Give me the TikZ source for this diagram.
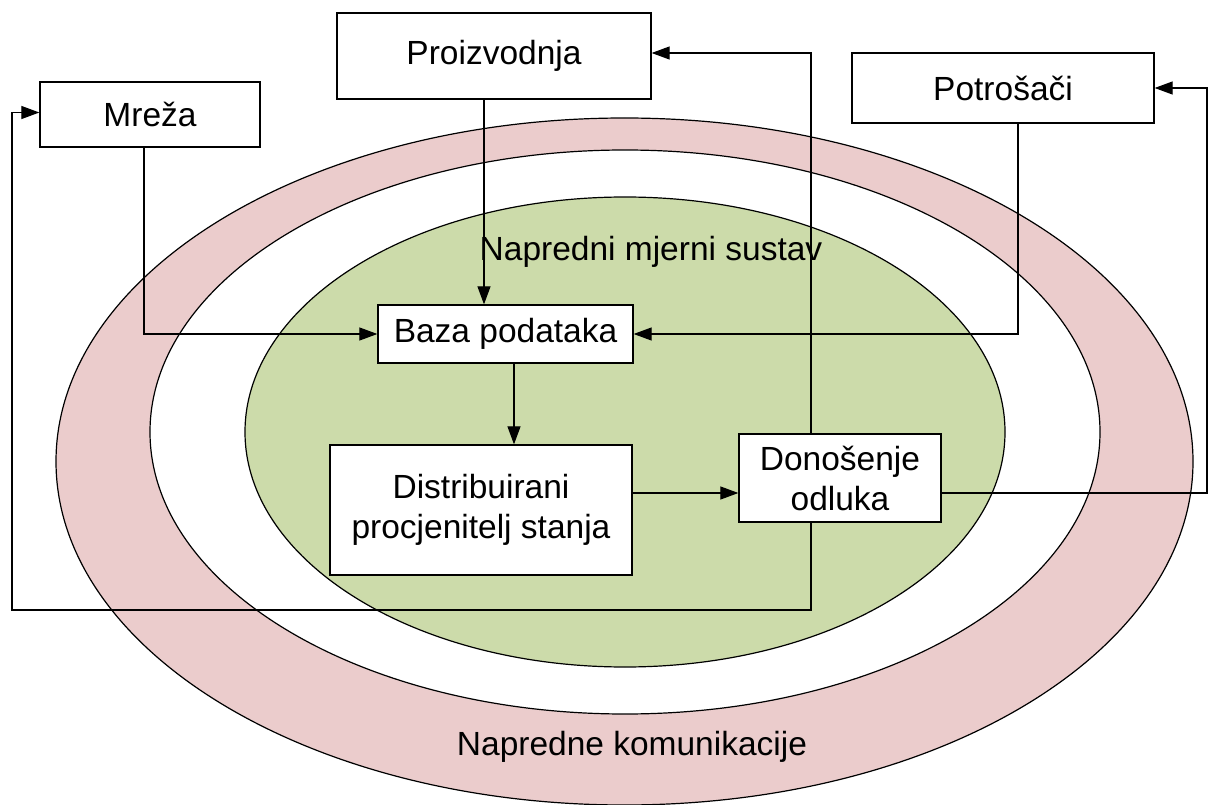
\documentclass[tikz,border=0pt]{standalone}
\usepackage{fontspec}
\setmainfont{Liberation Sans}
\usetikzlibrary{arrows.meta,calc}
\definecolor{pinkc}{HTML}{EBCCCC}
\definecolor{greenc}{HTML}{CCDBAA}
\begin{document}
\begin{tikzpicture}[x=1pt,y=-1pt,
  box/.style={draw=black, line width=1.3pt, fill=white, inner sep=0pt, align=center,
    font=\fontsize{33.5}{40}\selectfont},
  lbl/.style={inner sep=0pt, font=\fontsize{33.5}{40}\selectfont},
  conn/.style={line width=1.2pt, -{Triangle[length=18pt,width=13pt]}},
  ring/.style={draw=black, line width=1.2pt}]
\useasboundingbox[fill=white] (0,0) rectangle (1208,805);
% rings
\draw[ring, fill=pinkc] (624.5,461.5) ellipse [x radius=568.5pt, y radius=343.5pt];
\draw[ring, fill=white] (625,432) ellipse [x radius=475pt, y radius=282pt];
\draw[ring, fill=greenc] (625,432) ellipse [x radius=380pt, y radius=235pt];
\node[lbl] (lblA) at (651,252) {Napredni mjerni sustav};
\node[lbl] (lblB) at (632,747) {Napredne komunikacije};
% boxes
\node[box, minimum width=314pt, minimum height=86pt] (proiz) at (494,56) {Proizvodnja};
\node[box, minimum width=220pt, minimum height=65pt] (mreza) at (150,114.5) {Mreža};
\node[box, minimum width=302pt, minimum height=70pt] (potr) at (1003,88) {Potrošači};
\node[box, minimum width=255pt, minimum height=58pt] (baza) at (505.5,334) {Baza podataka};
\node[box, minimum width=302pt, minimum height=130pt] (dist) at (481,510) {Distribuirani\\procjenitelj stanja};
\node[box, minimum width=202pt, minimum height=88pt] (don) at (840,478) {Donošenje\\odluka};
% connectors
\coordinate (m1) at ($(mreza.south)+(-6,0)$);
\draw[conn] (m1) |- (baza.west);
\coordinate (p1) at ($(proiz.south)+(-10,0)$);
\draw[conn] (p1) -- (p1 |- baza.north);
\coordinate (c1) at ($(potr.south)+(15,0)$);
\draw[conn] (c1) |- (baza.east);
\coordinate (b1) at ($(baza.south)+(8.5,0)$);
\draw[conn] (b1) -- (b1 |- dist.north);
\coordinate (d1) at ($(dist.east)+(0,-17)$);
\draw[conn] (d1) -- (d1 -| don.west);
\coordinate (e1) at ($(don.north)+(-29,0)$);
\coordinate (pe) at ($(proiz.east)+(0,-3)$);
\draw[conn] (e1) |- (pe);
\coordinate (e2) at ($(don.east)+(0,15)$);
\coordinate (rr) at (1207,88);
\draw[conn] (e2) -| (rr) -- (potr.east);
\coordinate (e3) at ($(don.south)+(-29,0)$);
\coordinate (ll) at (12,610);
\coordinate (me) at ($(mreza.west)+(0,-2)$);
\draw[conn] (e3) |- (ll) |- (me);
\end{tikzpicture}
\end{document}
